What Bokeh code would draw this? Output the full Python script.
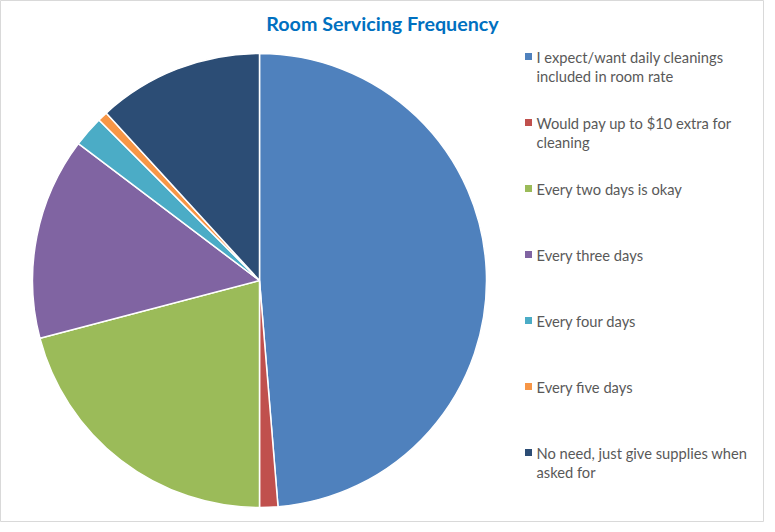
import math
from bokeh.plotting import figure
from bokeh.models import Range1d, ColumnDataSource
from bokeh.core.properties import value
from bokeh.embed import file_html
from bokeh.resources import INLINE

title = "Room Servicing Frequency"
categories = [
    "I expect/want daily cleanings\nincluded in room rate",
    "Would pay up to $10 extra for\ncleaning",
    "Every two days is okay",
    "Every three days",
    "Every four days",
    "Every five days",
    "No need, just give supplies when\nasked for",
]
shares = [48.7, 1.3, 20.9, 14.4, 2.2, 0.7, 11.8]
colors = ["#4F81BD", "#C0504D", "#9BBB59", "#8064A2", "#4BACC6", "#F79646", "#2C4D75"]

W, H = 764, 522
p = figure(width=W, height=H, output_backend="svg", toolbar_location=None,
           x_range=Range1d(0, W), y_range=Range1d(0, H), min_border=0)
p.axis.visible = False
p.grid.visible = False
p.outline_line_color = "#D9D9D9"
p.outline_line_width = 1
p.background_fill_color = "white"

total = sum(shares)
starts, ends = [], []
cum = 0.0
for s in shares:
    starts.append(math.pi / 2 - cum / total * 2 * math.pi)
    cum += s
    ends.append(math.pi / 2 - cum / total * 2 * math.pi)

cx, cy, r = 259, H - 280, 227
src = ColumnDataSource(dict(start=starts, end=ends, color=colors))
p.wedge(x=cx, y=cy, radius=r, start_angle="start", end_angle="end",
        direction="clock", fill_color="color", line_color="white",
        line_width=1.5, source=src)

# title
p.text(x=[382], y=[H - 23], text=[title], text_font=value("Lato"),
       text_font_size="19.7px", text_font_style="bold", text_color="#0070C0",
       text_align="center", text_baseline="middle")

# legend
n = len(categories)
ly = [H - 56 - i * 66 for i in range(n)]
lsrc = ColumnDataSource(dict(x=[528] * n, y=ly, tx=[536] * n, ty=[v + 9 for v in ly],
                             label=categories, color=colors))
p.scatter(x="x", y="y", marker="square", size=7, fill_color="color",
          line_color=None, source=lsrc)
p.text(x="tx", y="ty", text="label", text_font=value("Lato"),
       text_font_size="14.7px", text_color="#595959", text_align="left",
       text_baseline="top", text_line_height=1.07, source=lsrc)

open("out.html", "w").write(file_html(p, INLINE))
